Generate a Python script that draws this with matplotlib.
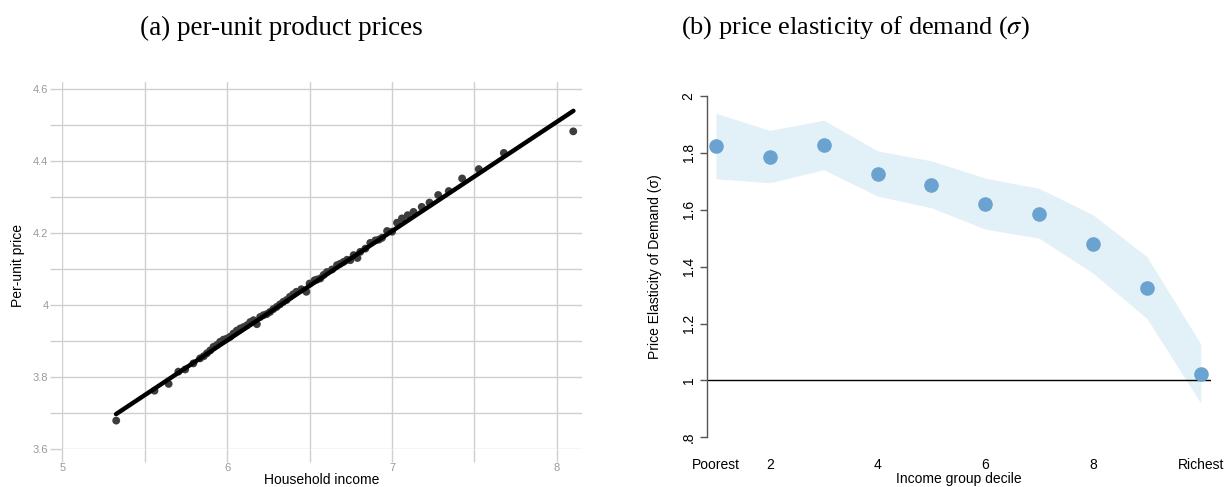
import matplotlib
matplotlib.use("Agg")
import matplotlib.pyplot as plt
import numpy as np

# ---------------- Panel (a) data ----------------
income = [5.327, 5.559, 5.645, 5.704, 5.745, 5.795, 5.836, 5.858, 5.877, 5.897,
          5.917, 5.937, 5.957, 5.978, 5.998, 6.018, 6.038, 6.058, 6.079, 6.099,
          6.120, 6.140, 6.160, 6.180, 6.200, 6.220, 6.240, 6.260, 6.280, 6.300,
          6.320, 6.340, 6.360, 6.380, 6.400, 6.420, 6.450, 6.480, 6.500, 6.530,
          6.545, 6.565, 6.585, 6.605, 6.636, 6.666, 6.686, 6.706, 6.727, 6.747,
          6.767, 6.790, 6.807, 6.838, 6.868, 6.899, 6.920, 6.939, 6.970, 7.000,
          7.030, 7.060, 7.095, 7.130, 7.180, 7.227, 7.280, 7.344, 7.425, 7.526,
          7.678, 8.099]
price = [3.679, 3.762, 3.781, 3.815, 3.821, 3.838, 3.852, 3.858, 3.866, 3.874,
         3.884, 3.889, 3.898, 3.904, 3.907, 3.912, 3.921, 3.929, 3.935, 3.939,
         3.944, 3.953, 3.958, 3.947, 3.967, 3.972, 3.975, 3.981, 3.989, 3.995,
         4.002, 4.009, 4.014, 4.023, 4.030, 4.037, 4.044, 4.037, 4.060, 4.069,
         4.071, 4.074, 4.084, 4.092, 4.099, 4.111, 4.115, 4.120, 4.126, 4.125,
         4.139, 4.131, 4.148, 4.157, 4.173, 4.180, 4.182, 4.187, 4.206, 4.204,
         4.229, 4.241, 4.250, 4.259, 4.273, 4.285, 4.306, 4.317, 4.352, 4.378,
         4.423, 4.483]
fit_x = [5.326, 8.100]
fit_y = [3.697, 4.540]

a_xticks = [5, 6, 7, 8]
a_xminor = [5.5, 6.5, 7.5]
a_yticks = [3.6, 3.8, 4.0, 4.2, 4.4, 4.6]
a_ytick_labels = ["3.6", "3.8", "4", "4.2", "4.4", "4.6"]
a_yminor = [3.7, 3.9, 4.1, 4.3, 4.5]

# ---------------- Panel (b) data ----------------
decile = [1, 2, 3, 4, 5, 6, 7, 8, 9, 10]
sigma = [1.824, 1.786, 1.827, 1.726, 1.688, 1.621, 1.586, 1.479, 1.326, 1.023]
ci_hi = [1.939, 1.879, 1.915, 1.807, 1.772, 1.711, 1.675, 1.582, 1.435, 1.128]
ci_lo = [1.709, 1.695, 1.741, 1.648, 1.607, 1.532, 1.500, 1.377, 1.218, 0.920]
b_xticks = [1, 2, 4, 6, 8, 10]
b_xtick_labels = ["Poorest", "2", "4", "6", "8", "Richest"]
b_yticks = [0.8, 1.0, 1.2, 1.4, 1.6, 1.8, 2.0]
b_ytick_labels = [".8", "1", "1.2", "1.4", "1.6", "1.8", "2"]

plt.rcParams['font.family'] = ['Liberation Sans', 'DejaVu Sans']
plt.rcParams['mathtext.fontset'] = 'stix'

W, H = 1228, 487
fig = plt.figure(figsize=(W / 100, H / 100), dpi=100)

def rect(l, t, r, b):
    return [l / W, 1 - b / H, (r - l) / W, (b - t) / H]

# ---- Panel (a) ----
ax1 = fig.add_axes(rect(62.3, 81.7, 582, 449))
ax1.set_xlim(5, 8.152)
ax1.set_ylim(3.6, 4.621)
for s in ax1.spines.values():
    s.set_visible(False)
ax1.set_xticks(a_xticks)
ax1.set_xticks(a_xminor, minor=True)
ax1.set_yticks(a_yticks)
ax1.set_yticklabels(a_ytick_labels)
ax1.set_yticks(a_yminor, minor=True)
ax1.grid(True, which='both', color='#cfcfcf', lw=1.0)
ax1.set_axisbelow(True)
ax1.tick_params(which='both', length=9, width=1.0, color='#cfcfcf',
                labelsize=8, labelcolor='#999999', pad=1)
ax1.scatter(income, price, s=32, color='#3d3d3d', zorder=3, edgecolors='none')
ax1.plot(fit_x, fit_y, color='black', lw=3.2, solid_capstyle='round', zorder=4)
ax1.set_xlabel("Household income", fontsize=10, labelpad=0)
ax1.set_ylabel("Per-unit price", fontsize=10, labelpad=6)

# ---- Panel (b) ----
ax2 = fig.add_axes(rect(706.7, 96, 1211, 437.3))
ax2.set_xlim(0.827, 10.19)
ax2.set_ylim(0.8, 2.0)
for k in ['top', 'right', 'bottom']:
    ax2.spines[k].set_visible(False)
ax2.spines['left'].set_color('#555555')
ax2.spines['left'].set_linewidth(1.0)
ax2.fill_between(decile, ci_lo, ci_hi, color='#e2f0f7', lw=0, zorder=1)
ax2.axhline(1.0, color='black', lw=1.0, zorder=2)
ax2.plot(decile, sigma, 'o', ms=10.5, color='#6aa2d0', mec='none', zorder=3)
ax2.set_xticks(b_xticks)
ax2.set_xticklabels(b_xtick_labels)
ax2.set_yticks(b_yticks)
ax2.set_yticklabels(b_ytick_labels, rotation=90, va='center')
ax2.tick_params(axis='x', length=0, labelsize=10, pad=15)
ax2.tick_params(axis='y', length=5, width=1.0, color='#555555', labelsize=10, pad=3)
ax2.set_xlabel("Income group decile", fontsize=10, labelpad=0)
ax2.set_ylabel("Price Elasticity of Demand (σ)", fontsize=10, labelpad=14)

# ---- Titles ----
fig.text(281 / W, 1 - 28 / H, "(a) per-unit product prices", ha='center', va='center',
         fontsize=19.5, family='Liberation Serif')
fig.text(855 / W, 1 - 28 / H, r"(b) price elasticity of demand ($\sigma$)", ha='center',
         va='center', fontsize=19, family='Liberation Serif')

fig.savefig("out.png", dpi=100)
